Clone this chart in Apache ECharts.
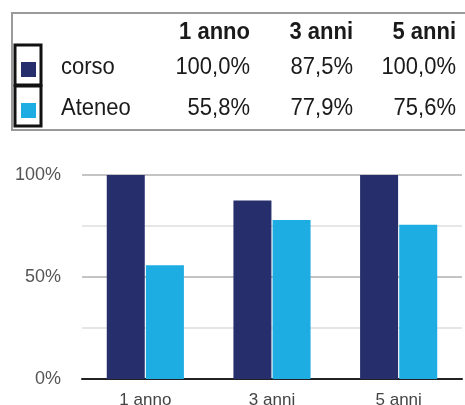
<!DOCTYPE html>
<html>
<head>
<meta charset="utf-8">
<script src="https://cdn.jsdelivr.net/npm/echarts@6/dist/echarts.min.js"></script>
<style>
  html, body { margin: 0; padding: 0; background: #fff; }
  #chartWrapper { width: 465px; height: 405px; }
</style>
</head>
<body>
<div id="chartWrapper"></div>
<script>
// dati
const categories = ["1 anno", "3 anni", "5 anni"];
const seriesNames = ["corso", "Ateneo"];
const corsoValues = [100.0, 87.5, 100.0];
const ateneoValues = [55.8, 77.9, 75.6];
const yTicks = [0, 25, 50, 75, 100];
const yLabelTicks = [0, 50, 100]; // solo queste hanno etichetta

const colors = ["#262e6c", "#1eade3"];
const font = "'Liberation Sans', Arial, sans-serif";

const myChart = echarts.init(document.getElementById("chartWrapper"));

// tabella in alto (legenda + valori)
function buildTable() {
  const colRight = [250, 353, 456]; // bordo destro colonne
  const rowY = [67, 108];
  const els = [];

  els.push({
    type: "rect",
    shape: { x: 12, y: 13, width: 470, height: 117 },
    style: { fill: "#fff", stroke: "#9a9a9a", lineWidth: 2 }
  });

  // testo leggermente allungato in verticale come nell'originale
  const txt = (x, y, text, f, align) => ({
    type: "text",
    x: x, y: y, scaleY: 1.12,
    style: { x: 0, y: 0, text: text, font: f, fill: "#1a1a1a", align: align, verticalAlign: "middle" }
  });

  categories.forEach((cat, i) => {
    els.push(txt(colRight[i], 32, cat, "bold 22px " + font, "right"));
  });

  const rows = [corsoValues, ateneoValues];
  rows.forEach((vals, r) => {
    const y = rowY[r];
    // quadratino legenda
    els.push({
      type: "rect",
      shape: { x: 15, y: y - 22, width: 26, height: 40 },
      style: { fill: "#fff", stroke: "#111", lineWidth: 3 }
    });
    els.push({
      type: "rect",
      shape: { x: 21, y: y - 5, width: 15, height: 15 },
      style: { fill: colors[r] }
    });
    els.push(txt(61, y, seriesNames[r], "22px " + font, "left"));
    vals.forEach((v, i) => {
      els.push(txt(colRight[i], y, v.toFixed(1).replace(".", ",") + "%", "22px " + font, "right"));
    });
  });
  return els;
}

let option = {
  animation: false,
  backgroundColor: "#fff",
  grid: { left: 82, right: 3, top: 175, bottom: 26, containLabel: false, outerBoundsMode: "none" },
  graphic: buildTable(),
  xAxis: {
    type: "category",
    data: categories,
    axisTick: { show: false },
    axisLine: { lineStyle: { color: "#222", width: 2 } },
    axisLabel: { color: "#444", fontSize: 17, fontFamily: font, margin: 13 }
  },
  yAxis: {
    type: "value",
    min: yTicks[0],
    max: yTicks[yTicks.length - 1],
    interval: 25,
    axisLine: { show: false },
    axisTick: { show: false },
    axisLabel: {
      color: "#555", fontSize: 18, fontFamily: font, margin: 21,
      formatter: (v) => (yLabelTicks.includes(v) ? v + "%" : "")
    },
    splitLine: { lineStyle: { color: ["#c4c4c4", "#e6e6e6"], width: 2 } }
  },
  series: [
    {
      name: seriesNames[0], type: "bar", data: corsoValues,
      barWidth: 38, barGap: "3%",
      itemStyle: { color: colors[0] }
    },
    {
      name: seriesNames[1], type: "bar", data: ateneoValues,
      barWidth: 38, barGap: "3%",
      itemStyle: { color: colors[1] }
    }
  ]
};

myChart.setOption(option);
</script>
</body>
</html>
